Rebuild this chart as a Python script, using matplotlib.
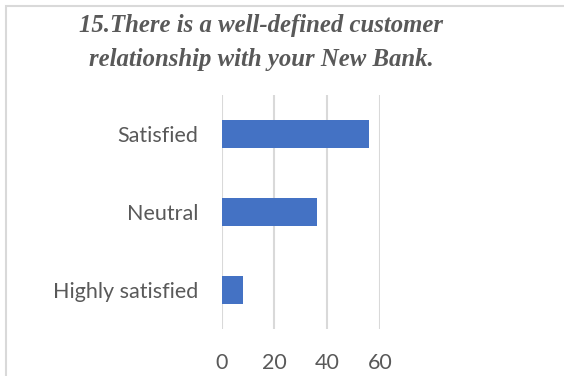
import matplotlib.pyplot as plt
from matplotlib.patches import Rectangle

categories = ['Highly satisfied', 'Neutral', 'Satisfied']
values = [8, 36, 56]
x_ticks = [0, 20, 40, 60]

text_grey = '#595959'
grid_grey = '#D9D9D9'
bar_blue = '#4472C4'

fig = plt.figure(figsize=(5.64, 3.76), dpi=100)
ax = fig.add_axes([0.3931, 0.125, 0.2807, 0.6223])

ax.barh(range(len(categories)), values, height=0.35, color=bar_blue, zorder=3)
ax.set_yticks(range(len(categories)))
ax.set_yticklabels(categories)
ax.set_ylim(-0.5, len(categories) - 0.5)
ax.set_xlim(0, 60)
ax.set_xticks(x_ticks)

for s in ax.spines.values():
    s.set_visible(False)
ax.grid(axis='x', color=grid_grey, linewidth=1.5, zorder=0)
ax.tick_params(length=0, labelcolor=text_grey, labelsize=15.5)
ax.tick_params(axis='x', pad=17)
ax.tick_params(axis='y', pad=17)
for lbl in ax.get_xticklabels() + ax.get_yticklabels():
    lbl.set_family('Lato')

fig.text(261 / 564, 1 - 42.5 / 376,
         '15.There is a well-defined customer\nrelationship with your New Bank.',
         ha='center', va='center', family='Liberation Serif', style='italic',
         weight='bold', fontsize=17.8, color=text_grey, linespacing=1.6)

# chart frame (runs past the right and bottom edges)
fig.patches.append(Rectangle((5.5 / 564, -0.1), 1.2, 1.1 - 5.5 / 376,
                             transform=fig.transFigure, fill=False,
                             edgecolor=grid_grey, linewidth=1.5))

fig.savefig('out.png', dpi=100)
